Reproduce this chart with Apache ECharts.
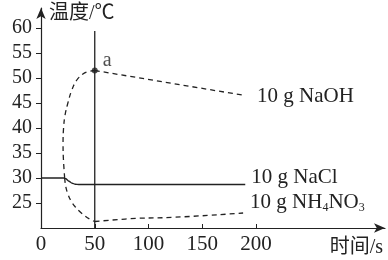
<!DOCTYPE html>
<html>
<head>
<meta charset="utf-8">
<script src="https://cdn.jsdelivr.net/npm/echarts@6/dist/echarts.min.js"></script>
<style>
html,body{margin:0;padding:0;background:#fff;}
#c{width:388px;height:260px;}
</style>
</head>
<body>
<div id="c"></div>
<script>
// ---- data ----
var xTicks = [0, 50, 100, 150, 200];
var yTicks = [25, 30, 35, 40, 45, 50, 55, 60];
var naclTime = [0, 21, 23, 26, 29, 32, 35, 190];
var naclTemp = [30, 30, 29.85, 29.35, 28.95, 28.75, 28.7, 28.7];
// NaOH: dissolving curve up to point a, then slow cooling
var naohCurveTime = [22, 20.8, 20.5, 21, 22.3, 25, 28.5, 33, 39, 44, 50];
var naohCurveTemp = [30, 34, 37, 40, 42.5, 45, 47.5, 49.5, 50.8, 51.3, 51.5];
var naohCoolTime = [50, 187];
var naohCoolTemp = [51.5, 46.6];
// NH4NO3: dissolving curve down, then slow warming
var nh4CurveTime = [22, 23, 25, 28, 32, 36, 41, 46, 50];
var nh4CurveTemp = [30, 28.3, 26.8, 25.4, 24.2, 23.3, 22.4, 21.7, 21.3];
var nh4WarmTime = [50, 100, 188];
var nh4WarmTemp = [21.3, 22, 23];
var vlineTime = [50, 50];
var vlineTemp = [20, 59.4];
var pointA = [50, 51.5];
var pointALabel = 'a';

function pairs(xs, ys){ return xs.map(function(x,i){ return [x, ys[i]]; }); }

var serif = 'Liberation Serif, "Times New Roman", serif';
var cjk = 'Liberation Serif, "Noto Sans CJK SC", serif';
var ink = '#222';
var dash = [5, 4];

var chart = echarts.init(document.getElementById('c'), null, {renderer:'canvas'});
chart.setOption({
  backgroundColor: '#fff',
  animation: false,
  grid: {left: 41, right: 3, top: 8, bottom: 32, containLabel: false},
  xAxis: {
    type: 'value', min: 0, max: 320,
    name: '时间/s', nameLocation: 'end', nameGap: 0,
    nameTextStyle: {fontFamily: cjk, fontSize: 20, color: ink, align: 'right', verticalAlign: 'top', padding: [10, 2, 0, 0]},
    axisLine: {show: true, lineStyle: {color: ink, width: 1.2}, symbol: ['none', 'arrow'], symbolSize: [7, 11]},
    axisTick: {show: true, inside: true, length: 4, lineStyle: {color: ink}, customValues: xTicks},
    axisLabel: {fontFamily: serif, fontSize: 21, color: ink, margin: 6, customValues: xTicks},
    splitLine: {show: false}
  },
  yAxis: {
    type: 'value', min: 20, max: 64,
    name: '温度/℃', nameLocation: 'end', nameGap: -6,
    nameTextStyle: {fontFamily: cjk, fontSize: 20, color: ink, align: 'left', verticalAlign: 'middle', padding: [0, 0, 0, 8]},
    axisLine: {show: true, lineStyle: {color: ink, width: 1.2}, symbol: ['none', 'arrow'], symbolSize: [7, 11]},
    axisTick: {show: true, inside: false, length: 5, lineStyle: {color: ink}, customValues: yTicks},
    axisLabel: {fontFamily: serif, fontSize: 20, color: ink, margin: 9, customValues: yTicks},
    splitLine: {show: false}
  },
  series: [
    {
      name: 'NaCl', type: 'line', data: pairs(naclTime, naclTemp),
      showSymbol: false, smooth: 0.3, smoothMonotone: 'x',
      lineStyle: {color: ink, width: 1.3},
      endLabel: {show: true, formatter: '10 g NaCl', fontFamily: serif, fontSize: 21, color: ink, distance: 6, offset: [0, -7]}
    },
    {
      name: 'NaOH curve', type: 'line', data: pairs(naohCurveTime, naohCurveTemp),
      showSymbol: false, smooth: 0.4,
      lineStyle: {color: ink, width: 1.3, type: dash}
    },
    {
      name: 'NaOH', type: 'line', data: pairs(naohCoolTime, naohCoolTemp),
      showSymbol: false, smooth: false,
      lineStyle: {color: ink, width: 1.3, type: dash},
      endLabel: {show: true, formatter: '10 g NaOH', fontFamily: serif, fontSize: 21, color: ink, distance: 15, offset: [0, 1]}
    },
    {
      name: 'NH4NO3 curve', type: 'line', data: pairs(nh4CurveTime, nh4CurveTemp),
      showSymbol: false, smooth: 0.4,
      lineStyle: {color: ink, width: 1.3, type: dash}
    },
    {
      name: 'NH4NO3', type: 'line', data: pairs(nh4WarmTime, nh4WarmTemp),
      showSymbol: false, smooth: 0.3, smoothMonotone: 'x',
      lineStyle: {color: ink, width: 1.3, type: dash},
      endLabel: {
        show: true, formatter: '{m|10 g NH}{s|4}{m|NO}{s|3}', distance: 7, offset: [0, -11],
        rich: {
          m: {fontFamily: serif, fontSize: 21, color: ink, lineHeight: 24},
          s: {fontFamily: serif, fontSize: 12, color: ink, lineHeight: 24, verticalAlign: 'bottom', padding: [8, 0, 0, 0]}
        }
      }
    },
    {
      name: 'vline', type: 'line', data: pairs(vlineTime, vlineTemp),
      showSymbol: false, lineStyle: {color: ink, width: 1.3}
    },
    {
      name: 'a', type: 'scatter', data: [pointA], symbolSize: 6,
      itemStyle: {color: ink},
      label: {show: true, formatter: pointALabel, position: [11, -17], align: 'left', verticalAlign: 'top', fontFamily: serif, fontSize: 20, color: ink}
    }
  ]
});
</script>
</body>
</html>
